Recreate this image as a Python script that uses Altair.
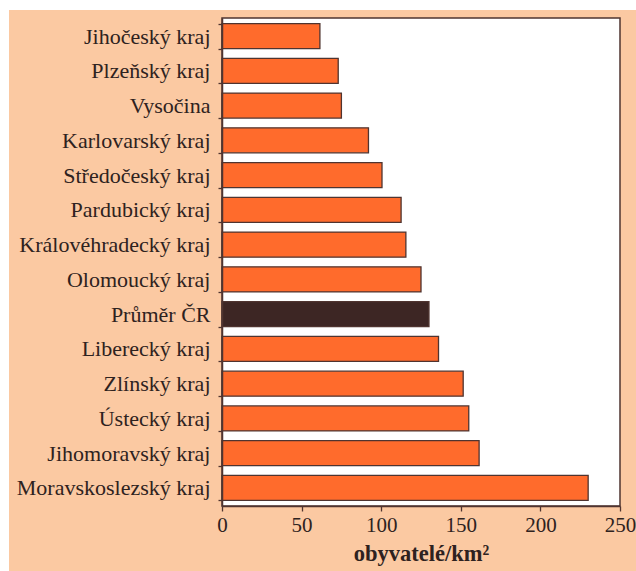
import altair as alt
import pandas as pd

regions = [
    "Jihočeský kraj", "Plzeňský kraj", "Vysočina", "Karlovarský kraj",
    "Středočeský kraj", "Pardubický kraj", "Královéhradecký kraj",
    "Olomoucký kraj", "Průměr ČR", "Liberecký kraj", "Zlínský kraj",
    "Ústecký kraj", "Jihomoravský kraj", "Moravskoslezský kraj",
]
density = [61.5, 73, 75, 92, 100.5, 112.5, 115.5, 125, 130, 136, 151.5, 155, 161.5, 230]
x_ticks = [0, 50, 100, 150, 200, 250]

PEACH = "#fbc9a2"
ORANGE = "#ff6b2c"
DARK = "#3d2624"
STROKE = "#4f3430"
TEXT = "#2e2220"
FONT = "Liberation Serif, Times New Roman, serif"

df = pd.DataFrame({"region": regions, "density": density})
one = pd.DataFrame({"a": [0]})

W, H = 398, 488

peach = alt.Chart(one).mark_rect(fill=PEACH, clip=False).encode(
    x=alt.value(-213), x2=alt.value(430), y=alt.value(-8), y2=alt.value(570)
)
plot_bg = alt.Chart(one).mark_rect(fill="white", stroke=STROKE, strokeWidth=1.5).encode(
    x=alt.value(0), x2=alt.value(W), y=alt.value(0), y2=alt.value(H)
)

bars = alt.Chart(df).mark_bar(stroke=STROKE, strokeWidth=1.3).encode(
    y=alt.Y(
        "region:N",
        sort=regions,
        scale=alt.Scale(paddingInner=0.28, paddingOuter=0.16),
        axis=alt.Axis(
            title=None,
            tickBand="extent",
            tickSize=4,
            tickWidth=1.3,
            tickColor=STROKE,
            domainColor=STROKE,
            domainWidth=1.5,
            labelFont=FONT,
            labelFontSize=22,
            labelColor=TEXT,
            labelPadding=8,
            labelLimit=0,
            zindex=1,
        ),
    ),
    x=alt.X(
        "density:Q",
        scale=alt.Scale(domain=[0, 250], nice=False),
        axis=alt.Axis(
            values=x_ticks,
            title="obyvatelé/km²",
            titleFont=FONT,
            titleFontSize=22.5,
            titleFontWeight="bold",
            titleColor=TEXT,
            titlePadding=7,
            tickSize=5,
            tickWidth=1.3,
            tickColor=STROKE,
            domainColor=STROKE,
            domainWidth=1.5,
            labelFont=FONT,
            labelFontSize=21,
            labelColor=TEXT,
            labelPadding=3,
            labelFlush=False,
            grid=False,
            zindex=1,
        ),
    ),
    fill=alt.condition(alt.datum.region == "Průměr ČR", alt.value(DARK), alt.value(ORANGE)),
)

chart = alt.layer(peach, plot_bg, bars).properties(
    width=W,
    height=H,
    autosize=alt.AutoSizeParams(type="none"),
    padding={"left": 222, "top": 18, "right": 16, "bottom": 65},
    background="white",
).configure_view(stroke=None)

chart.save("out.html", embed_options={"renderer": "svg", "actions": False})
